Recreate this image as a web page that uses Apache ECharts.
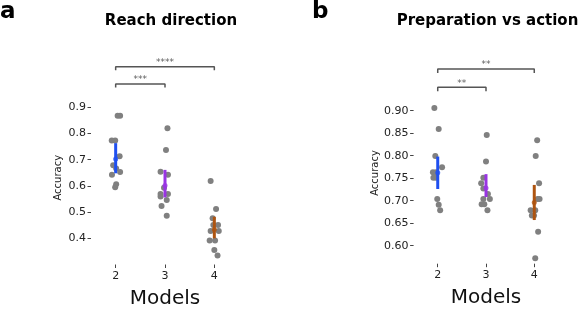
<!DOCTYPE html>
<html>
<head>
<meta charset="utf-8">
<script src="https://cdn.jsdelivr.net/npm/echarts@6/dist/echarts.min.js"></script>
<style>html,body{margin:0;padding:0;background:#fff;}#c{width:582px;height:309px;}</style>
</head>
<body>
<div id="c"></div>
<script>
// ---- data ----
const models = [2, 3, 4];
const yTicksReach = [0.4, 0.5, 0.6, 0.7, 0.8, 0.9];
const yTicksPrep = [0.60, 0.65, 0.70, 0.75, 0.80, 0.85, 0.90];

// Reach direction: per-subject accuracy and horizontal jitter (in category units)
const reachM2 = [0.868, 0.868, 0.773, 0.773, 0.713, 0.679, 0.666, 0.653, 0.642, 0.606, 0.595];
const reachJ2 = [0.04, 0.09, -0.08, -0.01, 0.08, -0.05, 0.01, 0.09, -0.075, 0.01, -0.01];
const reachM3 = [0.820, 0.737, 0.654, 0.642, 0.593, 0.569, 0.569, 0.559, 0.546, 0.523, 0.486];
const reachJ3 = [0.05, 0.02, -0.09, 0.06, -0.02, -0.09, 0.06, -0.09, 0.035, -0.07, 0.035];
const reachM4 = [0.619, 0.512, 0.476, 0.451, 0.451, 0.428, 0.428, 0.392, 0.392, 0.355, 0.334];
const reachJ4 = [-0.075, 0.035, -0.035, -0.02, 0.075, -0.075, 0.09, -0.095, 0.015, 0.0, 0.065];
const reachMean = [0.703, 0.601, 0.434];
const reachLow = [0.648, 0.556, 0.400];
const reachHigh = [0.763, 0.661, 0.482];

// Preparation vs action
const prepM2 = [0.906, 0.859, 0.799, 0.774, 0.763, 0.763, 0.751, 0.751, 0.704, 0.691, 0.679];
const prepJ2 = [-0.07, 0.02, -0.05, 0.09, -0.10, -0.035, -0.09, -0.035, -0.01, 0.02, 0.05];
const prepM3 = [0.846, 0.787, 0.751, 0.739, 0.727, 0.715, 0.704, 0.704, 0.692, 0.692, 0.679];
const prepJ3 = [0.015, 0.0, -0.055, -0.10, -0.055, 0.04, -0.055, 0.08, -0.09, -0.035, 0.03];
const prepM4 = [0.834, 0.799, 0.739, 0.704, 0.704, 0.679, 0.679, 0.667, 0.667, 0.631, 0.572];
const prepJ4 = [0.06, 0.03, 0.10, 0.07, 0.11, -0.075, 0.02, -0.05, -0.005, 0.08, 0.02];
const prepMean = [0.762, 0.728, 0.696];
const prepLow = [0.726, 0.708, 0.657];
const prepHigh = [0.798, 0.759, 0.735];

// significance brackets: [from model, to model, level, label]
const reachSig = [[2, 3, 0.989, '***'], [2, 4, 1.055, '****']];
const prepSig = [[2, 3, 0.952, '**'], [2, 4, 0.9927, '**']];

// ---- styling ----
const FONT = 'DejaVu Sans';
const POINT = '#808080';
const colors = ['#1f4ff0', '#9934e3', '#ae5410'];

function pts(vals, jit, m) { return vals.map((v, i) => [m + jit[i], v]); }

function panelSeries(idx, groups, mean, low, high, sig, drop, starOffset) {
  const s = [];
  const all = [];
  groups.forEach((g, k) => all.push(...pts(g[0], g[1], models[k])));
  s.push({ type: 'scatter', xAxisIndex: idx, yAxisIndex: idx, data: all, symbolSize: 6,
    itemStyle: { color: POINT, opacity: 1 }, z: 2, silent: true, clip: false });
  models.forEach((m, k) => {
    s.push({ type: 'line', xAxisIndex: idx, yAxisIndex: idx, data: [[m, low[k]], [m, high[k]]],
      symbol: 'none', lineStyle: { color: colors[k], width: 3 }, z: 5, silent: true, clip: false });
    s.push({ type: 'scatter', xAxisIndex: idx, yAxisIndex: idx, data: [[m, mean[k]]],
      symbolSize: 5, itemStyle: { color: colors[k] }, z: 6, silent: true, clip: false });
  });
  sig.forEach(b => {
    s.push({ type: 'line', xAxisIndex: idx, yAxisIndex: idx,
      data: [[b[0], b[2] - drop], [b[0], b[2]], [b[1], b[2]], [b[1], b[2] - drop]],
      symbol: 'none', lineStyle: { color: '#555', width: 1.5 }, z: 4, silent: true, clip: false });
    s.push({ type: 'scatter', xAxisIndex: idx, yAxisIndex: idx, data: [[(b[0] + b[1]) / 2, b[2]]],
      symbolSize: 0, clip: false, silent: true,
      label: { show: true, position: 'inside', offset: [0, starOffset], formatter: b[3],
        fontFamily: FONT, fontSize: 9, color: '#333' } });
  });
  return s;
}

function yAxis(idx, min, max, ticks, dec, gap) {
  return { type: 'value', gridIndex: idx, min: min, max: max,
    name: 'Accuracy', nameLocation: 'middle', nameGap: gap,
    nameTextStyle: { fontFamily: FONT, fontSize: 10, color: '#222' },
    axisLine: { show: false }, splitLine: { show: false },
    axisTick: { show: true, length: 3.5, customValues: ticks, lineStyle: { color: '#444', width: 1 } },
    axisLabel: { customValues: ticks, fontFamily: FONT, fontSize: 11, color: '#222', margin: 5,
      formatter: v => Number(v).toFixed(dec) } };
}
function xAxis(idx) {
  return { type: 'value', gridIndex: idx, min: 1.5, max: 4.5,
    name: 'Models', nameLocation: 'middle', nameGap: 24,
    nameTextStyle: { fontFamily: FONT, fontSize: 20, color: '#111' },
    axisLine: { show: false }, splitLine: { show: false },
    axisTick: { show: true, length: 3.5, customValues: models, lineStyle: { color: '#444', width: 1 } },
    axisLabel: { customValues: models, fontFamily: FONT, fontSize: 11, color: '#222', margin: 6,
      formatter: v => String(v) } };
}

const chart = echarts.init(document.getElementById('c'), null, { renderer: 'canvas' });
chart.setOption({
  animation: false,
  backgroundColor: '#fff',
  grid: [
    { left: 91, top: 91, width: 148, height: 173.5, outerBoundsMode: 'none', containLabel: false },
    { left: 413.6, top: 82.3, width: 144.8, height: 181.4, outerBoundsMode: 'none', containLabel: false }
  ],
  xAxis: [xAxis(0), xAxis(1)],
  yAxis: [yAxis(0, 0.3, 0.962, yTicksReach, 1, 28), yAxis(1, 0.56, 0.963, yTicksPrep, 2, 33)],
  graphic: [
    { type: 'text', style: { x: 0, y: 24, text: 'a', font: 'bold 23px "DejaVu Sans"', fill: '#000', verticalAlign: 'bottom' } },
    { type: 'text', style: { x: 312, y: 24, text: 'b', font: 'bold 23px "DejaVu Sans"', fill: '#000', verticalAlign: 'bottom' } },
    { type: 'text', style: { x: 171, y: 21.5, text: 'Reach direction', font: 'bold 15px "DejaVu Sans"', fill: '#000', align: 'center', verticalAlign: 'middle' } },
    { type: 'text', style: { x: 487.5, y: 21.5, text: 'Preparation vs action', font: 'bold 15px "DejaVu Sans"', fill: '#000', align: 'center', verticalAlign: 'middle' } }
  ],
  series: [
    ...panelSeries(0, [[reachM2, reachJ2], [reachM3, reachJ3], [reachM4, reachJ4]], reachMean, reachLow, reachHigh, reachSig, 0.014, -4),
    ...panelSeries(1, [[prepM2, prepJ2], [prepM3, prepJ3], [prepM4, prepJ4]], prepMean, prepLow, prepHigh, prepSig, 0.009, -4)
  ]
});
</script>
</body>
</html>
